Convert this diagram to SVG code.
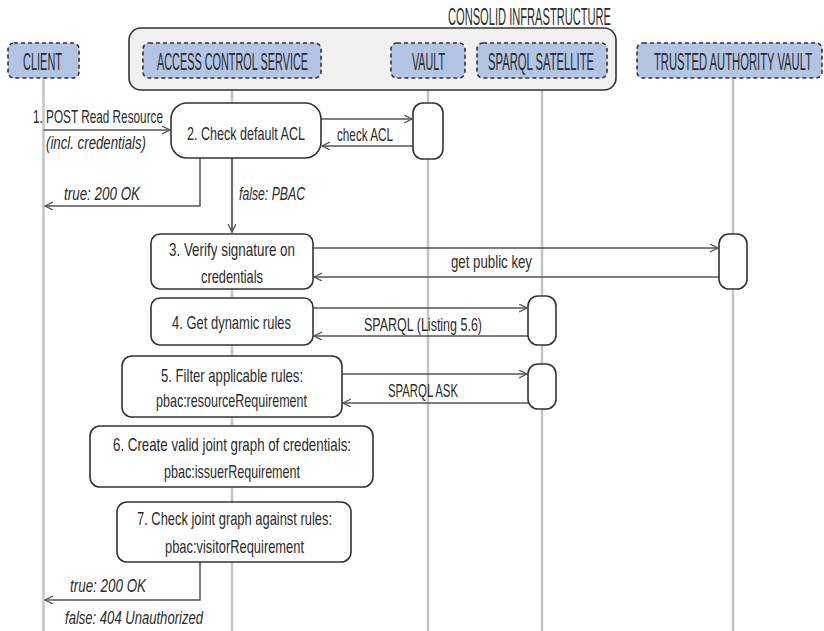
<svg xmlns="http://www.w3.org/2000/svg" width="824" height="631" viewBox="0 0 824 631">
  <style>
    .life { stroke: #c4c4c4; stroke-width: 2.5; fill: none; }
    .head { fill: #b3c5e4; stroke: #333; stroke-width: 1.6; stroke-dasharray: 4 3; }
    .group { fill: #f1f1f1; stroke: #333; stroke-width: 1.6; }
    .step { fill: #fff; stroke: #333; stroke-width: 1.6; }
    .act { fill: #fff; stroke: #333; stroke-width: 1.6; }
    .msg { stroke: #555; stroke-width: 1.5; fill: none; }
    text { font-family: "Liberation Sans", "DejaVu Sans", sans-serif; fill: #2b2b2b; }
    .ht { font-size: 23px; }
    .t { font-size: 18px; }
    .i { font-size: 18px; font-style: italic; }
  </style>
  <defs>
    <marker id="arr" markerWidth="10" markerHeight="10" refX="8" refY="4" orient="auto" markerUnits="userSpaceOnUse">
      <path d="M0,0 L8,4 L0,8" fill="none" stroke="#555" stroke-width="1.3"/>
    </marker>
  </defs>

  <!-- lifelines -->
  <g id="lifelines">
    <line class="life" x1="43.5" y1="78" x2="43.5" y2="631"/>
    <line class="life" x1="232" y1="78" x2="232" y2="631"/>
    <line class="life" x1="428" y1="78" x2="428" y2="631"/>
    <line class="life" x1="542" y1="78" x2="542" y2="631"/>
    <line class="life" x1="733" y1="78" x2="733" y2="631"/>
  </g>

  <!-- infrastructure group -->
  <g id="consolid-infrastructure">
    <rect class="group" x="129" y="28" width="487" height="62" rx="12"/>
    <text class="ht" transform="translate(448,25) scale(0.5,1)" textLength="326" lengthAdjust="spacingAndGlyphs">CONSOLID INFRASTRUCTURE</text>
  </g>

  <!-- participants (condensed caption text) -->
  <g id="client">
    <rect class="head" x="8" y="43" width="71" height="35" rx="6"/>
    <text class="ht" transform="translate(23,70) scale(0.5,1)" textLength="78" lengthAdjust="spacingAndGlyphs">CLIENT</text>
  </g>
  <g id="access-control-service">
    <rect class="head" x="143" y="43" width="178" height="35" rx="6"/>
    <text class="ht" transform="translate(157,70) scale(0.5,1)" textLength="302" lengthAdjust="spacingAndGlyphs">ACCESS CONTROL SERVICE</text>
  </g>
  <g id="vault">
    <rect class="head" x="391" y="43" width="74" height="35" rx="6"/>
    <text class="ht" transform="translate(412,70) scale(0.5,1)" textLength="66" lengthAdjust="spacingAndGlyphs">VAULT</text>
  </g>
  <g id="sparql-satellite">
    <rect class="head" x="477" y="43" width="130" height="35" rx="6"/>
    <text class="ht" transform="translate(488,70) scale(0.5,1)" textLength="212" lengthAdjust="spacingAndGlyphs">SPARQL SATELLITE</text>
  </g>
  <g id="trusted-authority-vault">
    <rect class="head" x="637" y="43" width="185" height="35" rx="6"/>
    <text class="ht" transform="translate(654,70) scale(0.5,1)" textLength="316" lengthAdjust="spacingAndGlyphs">TRUSTED AUTHORITY VAULT</text>
  </g>

  <!-- connectors -->
  <g id="connectors">
    <line class="msg" x1="43.5" y1="130" x2="170" y2="130" marker-end="url(#arr)"/>
    <line class="msg" x1="321" y1="119" x2="412" y2="119" marker-end="url(#arr)"/>
    <line class="msg" x1="413" y1="146" x2="322" y2="146" marker-end="url(#arr)"/>
    <polyline class="msg" points="200,158 200,206 45,206" marker-end="url(#arr)"/>
    <line class="msg" x1="232" y1="158" x2="232" y2="232" marker-end="url(#arr)"/>
    <line class="msg" x1="313" y1="248" x2="718" y2="248" marker-end="url(#arr)"/>
    <line class="msg" x1="719" y1="277" x2="314" y2="277" marker-end="url(#arr)"/>
    <line class="msg" x1="313" y1="308" x2="527" y2="308" marker-end="url(#arr)"/>
    <line class="msg" x1="528" y1="336" x2="314" y2="336" marker-end="url(#arr)"/>
    <line class="msg" x1="342" y1="374" x2="527" y2="374" marker-end="url(#arr)"/>
    <line class="msg" x1="528" y1="403" x2="343" y2="403" marker-end="url(#arr)"/>
    <polyline class="msg" points="200,562 200,600 45,600" marker-end="url(#arr)"/>

    <text class="t" transform="translate(33,123) scale(0.7,1)" textLength="185.7" lengthAdjust="spacingAndGlyphs">1. POST Read Resource</text>
    <text class="i" transform="translate(46,149) scale(0.7,1)" textLength="142.9" lengthAdjust="spacingAndGlyphs">(incl. credentials)</text>
    <text class="t" transform="translate(337,141) scale(0.7,1)" textLength="80" lengthAdjust="spacingAndGlyphs">check ACL</text>
    <text class="i" transform="translate(64,200) scale(0.7,1)" textLength="108.6" lengthAdjust="spacingAndGlyphs">true: 200 OK</text>
    <text class="i" transform="translate(239,200) scale(0.7,1)" textLength="94.3" lengthAdjust="spacingAndGlyphs">false: PBAC</text>
    <text class="t" transform="translate(451,268) scale(0.7,1)" textLength="115.7" lengthAdjust="spacingAndGlyphs">get public key</text>
    <text class="t" transform="translate(364,331) scale(0.7,1)" textLength="168.6" lengthAdjust="spacingAndGlyphs">SPARQL (Listing 5.6)</text>
    <text class="t" transform="translate(388,397) scale(0.7,1)" textLength="100" lengthAdjust="spacingAndGlyphs">SPARQL ASK</text>
    <text class="i" transform="translate(70,592) scale(0.7,1)" textLength="108.6" lengthAdjust="spacingAndGlyphs">true: 200 OK</text>
    <text class="i" transform="translate(65,624) scale(0.7,1)" textLength="197.1" lengthAdjust="spacingAndGlyphs">false: 404 Unauthorized</text>
  </g>

  <!-- activations on remote services -->
  <g id="vault-activation">
    <rect class="act" x="413" y="103" width="30" height="56" rx="10"/>
  </g>
  <g id="tav-activation">
    <rect class="act" x="719" y="234" width="28" height="55" rx="10"/>
  </g>
  <g id="sparql-activation-1">
    <rect class="act" x="528" y="296" width="28" height="49" rx="10"/>
  </g>
  <g id="sparql-activation-2">
    <rect class="act" x="528" y="364" width="28" height="45" rx="10"/>
  </g>

  <!-- processing steps -->
  <g id="step-2">
    <rect class="step" x="171" y="103" width="150" height="55" rx="16"/>
    <text class="t" transform="translate(187,140) scale(0.7,1)" textLength="168.6" lengthAdjust="spacingAndGlyphs">2. Check default ACL</text>
  </g>
  <g id="step-3">
    <rect class="step" x="151" y="234" width="162" height="55" rx="9"/>
    <text class="t" transform="translate(169,256) scale(0.7,1)" textLength="180" lengthAdjust="spacingAndGlyphs">3. Verify signature on</text>
    <text class="t" transform="translate(201,283) scale(0.7,1)" textLength="88.6" lengthAdjust="spacingAndGlyphs">credentials</text>
  </g>
  <g id="step-4">
    <rect class="step" x="151" y="298" width="162" height="47" rx="9"/>
    <text class="t" transform="translate(172,329) scale(0.7,1)" textLength="170" lengthAdjust="spacingAndGlyphs">4. Get dynamic rules</text>
  </g>
  <g id="step-5">
    <rect class="step" x="122" y="356" width="220" height="61" rx="10"/>
    <text class="t" transform="translate(161,382) scale(0.7,1)" textLength="202.9" lengthAdjust="spacingAndGlyphs">5. Filter applicable rules:</text>
    <text class="t" transform="translate(156,407) scale(0.7,1)" textLength="215.7" lengthAdjust="spacingAndGlyphs">pbac:resourceRequirement</text>
  </g>
  <g id="step-6">
    <rect class="step" x="90" y="426" width="283" height="61" rx="10"/>
    <text class="t" transform="translate(113,451) scale(0.7,1)" textLength="340" lengthAdjust="spacingAndGlyphs">6. Create valid joint graph of credentials:</text>
    <text class="t" transform="translate(164,478) scale(0.7,1)" textLength="194.3" lengthAdjust="spacingAndGlyphs">pbac:issuerRequirement</text>
  </g>
  <g id="step-7">
    <rect class="step" x="117" y="502" width="234" height="60" rx="10"/>
    <text class="t" transform="translate(137,525) scale(0.7,1)" textLength="278.6" lengthAdjust="spacingAndGlyphs">7. Check joint graph against rules:</text>
    <text class="t" transform="translate(165,553) scale(0.7,1)" textLength="198.6" lengthAdjust="spacingAndGlyphs">pbac:visitorRequirement</text>
  </g>
</svg>
